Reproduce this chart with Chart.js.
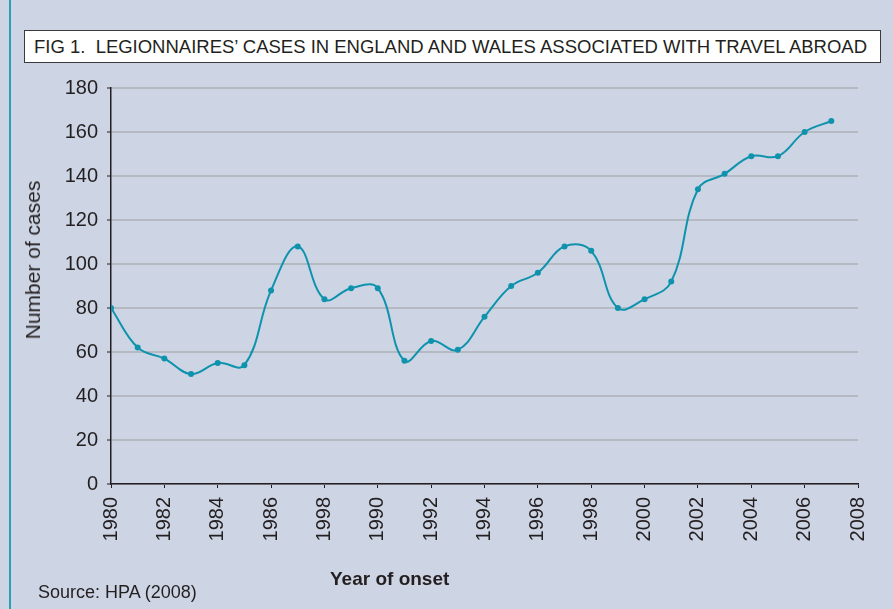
<!DOCTYPE html>
<html>
<head>
<meta charset="utf-8">
<script src="https://cdn.jsdelivr.net/npm/chart.js@4/dist/chart.umd.min.js"></script>
<style>
  html, body { margin: 0; padding: 0; }
  body { width: 893px; height: 609px; background: #cdd5e5; position: relative; overflow: hidden; font-family: "Liberation Sans", Arial, sans-serif; color: #231f20; }
  #edge { position: absolute; left: 9px; top: 0; width: 1.5px; height: 609px; background: #2a9fb8; }
  #wrap { position: absolute; left: 0; top: 0; width: 893px; height: 609px; }
  #titlebox { position: absolute; left: 24px; top: 30px; width: 855px; height: 31px; background: #fff; border: 1px solid #3a3a3a; }
  #title { position: absolute; left: 9px; top: 6px; font-size: 18px; white-space: nowrap; transform-origin: 0 0; font-family: "Liberation Sans Narrow", "Liberation Sans", Arial, sans-serif; }
  .lbl { position: absolute; white-space: nowrap; }
  #ytitle { left: 33px; top: 260px; font-size: 21px; transform: translate(-50%, -50%) rotate(-90deg); }
  #xtitle { left: 330px; top: 568px; font-size: 19px; font-weight: bold; }
  #source { left: 38px; top: 582px; font-size: 18px; }
</style>
</head>
<body>
<div id="edge"></div>
<div id="wrap"><canvas id="chart"></canvas></div>
<div id="titlebox"><span id="title">FIG 1.&nbsp; LEGIONNAIRES’ CASES IN ENGLAND AND WALES ASSOCIATED WITH TRAVEL ABROAD</span></div>
<div class="lbl" id="ytitle">Number of cases</div>
<div class="lbl" id="xtitle">Year of onset</div>
<div class="lbl" id="source">Source: HPA (2008)</div>
<script>
const years = [1980, 1981, 1982, 1983, 1984, 1985, 1986, 1987, 1988, 1989, 1990, 1991, 1992, 1993,
  1994, 1995, 1996, 1997, 1998, 1999, 2000, 2001, 2002, 2003, 2004, 2005, 2006, 2007];
const cases = [80, 62, 57, 50, 55, 54, 88, 108, 84, 89, 89, 56, 65, 61,
  76, 90, 96, 108, 106, 80, 84, 92, 134, 141, 149, 149, 160, 165];
// tick labels as printed (the 1988 tick reads "1998" in the original)
const xTickLabels = ["1980", "1982", "1984", "1986", "1998", "1990", "1992", "1994", "1996",
  "1998", "2000", "2002", "2004", "2006", "2008"];
const yTicks = [0, 20, 40, 60, 80, 100, 120, 140, 160, 180];

// squeeze the condensed title into its box
const t = document.getElementById("title");
const w = t.getBoundingClientRect().width;
t.style.transform = "scaleX(" + (833 / w) + ")";

const ink = "#231f20";
const teal = "#0f93ad";
const tickFont = { family: "Liberation Sans, Arial, sans-serif", size: 20 };

new Chart(document.getElementById("chart"), {
  type: "line",
  data: {
    datasets: [{
      data: years.map((y, i) => ({ x: y, y: cases[i] })),
      borderColor: teal,
      backgroundColor: teal,
      borderWidth: 2,
      pointRadius: 3,
      pointBorderWidth: 0,
      tension: 0.4,
      fill: false
    }]
  },
  options: {
    responsive: true,
    maintainAspectRatio: false,
    animation: false,
    layout: { padding: { left: 0, top: 88, right: 35, bottom: 0 } },
    plugins: { legend: { display: false }, tooltip: { enabled: false } },
    scales: {
      x: {
        type: "linear",
        min: 1980,
        max: 2008,
        afterFit: s => { s.height = 125; },
        afterBuildTicks: s => { s.ticks = xTickLabels.map((_, i) => ({ value: 1980 + i * 2 })); },
        ticks: {
          autoSkip: false,
          minRotation: 90,
          maxRotation: 90,
          padding: 9,
          color: ink,
          font: tickFont,
          callback: (v) => xTickLabels[Math.round((v - 1980) / 2)]
        },
        grid: { drawOnChartArea: false, drawTicks: true, tickLength: 4, tickColor: ink, tickWidth: 1 },
        border: { display: true, color: ink, width: 1.5 }
      },
      y: {
        min: 0,
        max: 180,
        afterFit: s => { s.width = 111; },
        afterBuildTicks: s => { s.ticks = yTicks.map(v => ({ value: v })); },
        ticks: {
          padding: 9,
          color: ink,
          font: tickFont
        },
        grid: { color: "#b4b9c2", lineWidth: 2, tickLength: 4, tickColor: ink, tickWidth: 1 },
        border: { display: true, color: ink, width: 1.5 }
      }
    }
  }
});
</script>
</body>
</html>
